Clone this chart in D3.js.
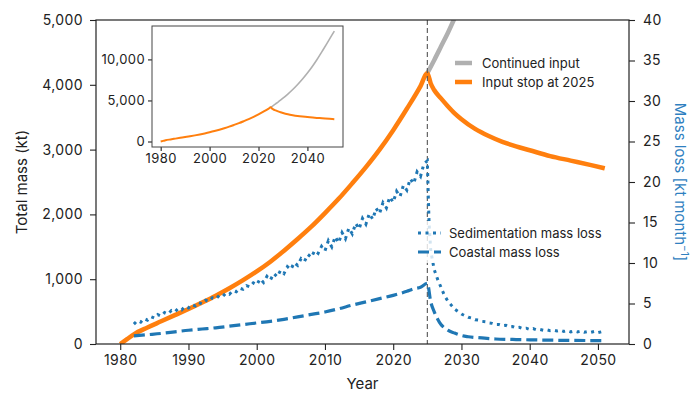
<!DOCTYPE html>
<html>
<head>
<meta charset="utf-8">
<script src="https://cdn.jsdelivr.net/npm/d3@7"></script>
<style>
body { margin: 0; background: #fff; }
text { font-family: Inter, "Liberation Sans", sans-serif; fill: #222; }
</style>
</head>
<body>
<script>

// total mass (kt), input stop at 2025
var stopYears = [1980, 1981, 1982, 1984, 1986, 1988, 1990, 1992, 1994, 1996, 1998, 2000, 2002, 2004, 2006, 2008,
  2010, 2012, 2014, 2016, 2018, 2020, 2022, 2024, 2025, 2025.5, 2026, 2027, 2028, 2029, 2030, 2032, 2034, 2036,
  2038, 2040, 2043, 2046, 2049, 2051];
var stopMass = [0, 75, 150, 255, 350, 445, 540, 640, 745, 860, 985, 1120, 1270, 1440, 1620, 1810,
  2020, 2240, 2480, 2730, 3000, 3300, 3630, 3980, 4180, 4020, 3920, 3790, 3670, 3560, 3470, 3320, 3210, 3120,
  3050, 2990, 2900, 2830, 2760, 2710];

// total mass (kt), continued input
var contYears = [2025, 2026, 2027, 2028, 2029, 2030, 2032, 2034, 2036, 2038, 2040, 2042, 2044, 2046, 2048, 2050, 2051];
var contMass = [4180, 4380, 4590, 4800, 5030, 5270, 5780, 6330, 6940, 7610, 8340, 9140, 10020, 10980, 11950, 12950, 13450];

// sedimentation mass loss (kt/month), half-yearly
var sedimentation = [
  [1982, 2.45], [1982.5, 2.88], [1983, 2.7], [1983.5, 3.13], [1984, 2.95], [1984.5, 3.38], [1985, 3.2], [1985.5, 3.63],
  [1986, 3.45], [1986.5, 3.88], [1987, 3.7], [1987.5, 4.13], [1988, 3.95], [1988.5, 4.38], [1989, 4.2], [1989.5, 4.63],
  [1990, 4.45], [1990.5, 4.88], [1991, 4.7], [1991.5, 5.13], [1992, 4.95], [1992.5, 5.4], [1993, 5.25], [1993.5, 5.7],
  [1994, 5.55], [1994.5, 6.0], [1995, 5.85], [1995.5, 6.3], [1996, 6.15], [1996.5, 6.6], [1997, 6.45], [1997.5, 6.9],
  [1998, 6.75], [1998.5, 7.2], [1999, 7.05], [1999.5, 7.55], [2000, 7.3], [2000.5, 8.05], [2001, 7.6], [2001.5, 8.35],
  [2002, 7.9], [2002.5, 8.7], [2003, 8.3], [2003.5, 9.1], [2004, 8.7], [2004.5, 9.55], [2005, 9.2], [2005.5, 10.05],
  [2006, 9.7], [2006.5, 10.55], [2007, 10.2], [2007.5, 11.05], [2008, 10.7], [2008.5, 11.55], [2009, 11.2], [2009.5, 12.05],
  [2010, 11.5], [2010.5, 12.75], [2011, 12.0], [2011.5, 13.25], [2012, 12.5], [2012.5, 13.75], [2013, 13.0], [2013.5, 14.3],
  [2014, 13.6], [2014.5, 14.9], [2015, 14.2], [2015.5, 15.5], [2016, 14.8], [2016.5, 16.1], [2017, 15.4], [2017.5, 16.75],
  [2018, 16.1], [2018.5, 17.45], [2019, 16.8], [2019.5, 18.15], [2020, 17.5], [2020.5, 18.85], [2021, 18.2], [2021.5, 19.6],
  [2022, 19.0], [2022.5, 20.4], [2023, 19.8], [2023.5, 21.25], [2024, 20.7], [2024.5, 22.25], [2025, 22.6],
  [2025.25, 15], [2025.5, 11.5], [2026, 9.2], [2026.5, 8.0], [2027, 7.0], [2027.5, 6.0], [2028, 5.3], [2028.5, 4.8],
  [2029, 4.3], [2029.5, 4.0], [2030, 3.7], [2030.5, 3.5], [2031, 3.3], [2031.5, 3.2], [2032, 3.0], [2032.5, 2.95],
  [2033, 2.8], [2033.5, 2.75], [2034, 2.6], [2034.5, 2.55], [2035, 2.4], [2035.5, 2.4], [2036, 2.25], [2036.5, 2.3],
  [2037, 2.1], [2037.5, 2.15], [2038, 2.0], [2038.5, 2.05], [2039, 1.9], [2039.5, 1.95], [2040, 1.8], [2040.5, 1.9],
  [2041, 1.75], [2041.5, 1.8], [2042, 1.7], [2042.5, 1.75], [2043, 1.65], [2043.5, 1.7], [2044, 1.6], [2044.5, 1.7],
  [2045, 1.55], [2045.5, 1.65], [2046, 1.5], [2046.5, 1.6], [2047, 1.5], [2047.5, 1.6], [2048, 1.45], [2048.5, 1.55],
  [2049, 1.45], [2049.5, 1.55], [2050, 1.4], [2050.5, 1.5], [2051, 1.45]
];

// coastal mass loss (kt/month)
var coastalYears = [1982, 1984, 1986, 1988, 1990, 1992, 1994, 1996, 1998, 2000, 2002, 2004, 2006, 2008, 2010, 2012,
  2014, 2016, 2018, 2020, 2022, 2023, 2024, 2025, 2025.5, 2026, 2026.5, 2027, 2027.5, 2028, 2029, 2030, 2031, 2033,
  2035, 2038, 2041, 2045, 2051];
var coastalLoss = [1.0, 1.15, 1.3, 1.5, 1.7, 1.85, 2.0, 2.2, 2.4, 2.6, 2.8, 3.05, 3.35, 3.65, 3.95, 4.35,
  4.8, 5.2, 5.6, 6.0, 6.5, 6.8, 7.0, 7.5, 5.2, 4.0, 3.1, 2.4, 2.0, 1.7, 1.35, 1.05, 0.9, 0.75,
  0.62, 0.55, 0.5, 0.45, 0.42];

var yearTicks = [1980, 1990, 2000, 2010, 2020, 2030, 2040, 2050];
var massTicks = [0, 1000, 2000, 3000, 4000, 5000];
var lossTicks = [0, 5, 10, 15, 20, 25, 30, 35, 40];
var insetYearTicks = [1980, 2000, 2020, 2040];
var insetMassTicks = [0, 5000, 10000];

var blue = "#1f77b4", orange = "#ff7f0e", grey = "#b0b0b0";

var w = 692;
var h = 393;
var pL = 96, pR = 629, pT = 20, pB = 344;  // plot box

var svg = d3.select("body")
  .append("svg")
  .attr("width", w)
  .attr("height", h);

var x = d3.scaleLinear().domain([1976.45, 2054.55]).range([pL, pR]);
var yMass = d3.scaleLinear().domain([0, 5000]).range([pB, pT]);
var yLoss = d3.scaleLinear().domain([0, 40]).range([pB, pT]);

svg.append("clipPath").attr("id", "clip")
  .append("rect")
  .attr("x", pL).attr("y", pT)
  .attr("width", pR - pL).attr("height", pB - pT);

var plot = svg.append("g").attr("clip-path", "url(#clip)");

var massLine = d3.line()
  .curve(d3.curveMonotoneX)
  .x(function(d) { return x(d[0]); })
  .y(function(d) { return yMass(d[1]); });
var sedLine = d3.line()
  .x(function(d) { return x(d[0]); })
  .y(function(d) { return yLoss(d[1]); });
var coastLine = d3.line()
  .curve(d3.curveMonotoneX)
  .x(function(d) { return x(d[0]); })
  .y(function(d) { return yLoss(d[1]); });

plot.append("path")
  .datum(d3.zip(contYears, contMass))
  .attr("d", massLine)
  .attr("fill", "none").attr("stroke", grey).attr("stroke-width", 4.5);

plot.append("path")
  .datum(d3.zip(stopYears, stopMass))
  .attr("d", massLine)
  .attr("fill", "none").attr("stroke", orange).attr("stroke-width", 4.5)
  .attr("stroke-linejoin", "round");

// vertical line at 2025
plot.append("line")
  .attr("x1", x(2025)).attr("x2", x(2025))
  .attr("y1", pT).attr("y2", pB)
  .attr("stroke", "#555").attr("stroke-width", 1.1)
  .attr("stroke-dasharray", "5,3");

plot.append("path")
  .datum(sedimentation)
  .attr("d", sedLine)
  .attr("fill", "none").attr("stroke", blue).attr("stroke-width", 3)
  .attr("stroke-dasharray", "3,4.5");

plot.append("path")
  .datum(d3.zip(coastalYears, coastalLoss))
  .attr("d", coastLine)
  .attr("fill", "none").attr("stroke", blue).attr("stroke-width", 3.2)
  .attr("stroke-dasharray", "11,5");

function styleAxis(g, size) {
  g.select(".domain").remove();
  g.selectAll(".tick line").attr("stroke", "#222").attr("stroke-width", 1.1);
  g.selectAll(".tick text").attr("font-size", size).attr("fill", "#222").attr("letter-spacing", 0.4);
}

svg.append("g")
  .attr("transform", "translate(" + pL + ",0)")
  .call(d3.axisLeft(yMass).tickValues(massTicks).tickFormat(d3.format(",")).tickSize(6).tickPadding(7))
  .call(styleAxis, 14);

svg.append("g")
  .attr("transform", "translate(" + pR + ",0)")
  .call(d3.axisRight(yLoss).tickValues(lossTicks).tickSize(6).tickPadding(8))
  .call(styleAxis, 14);

svg.append("g")
  .attr("transform", "translate(0," + pB + ")")
  .call(d3.axisBottom(x).tickValues(yearTicks).tickFormat(d3.format("d")).tickSize(6).tickPadding(5))
  .call(styleAxis, 14);

svg.append("rect")
  .attr("x", pL).attr("y", pT)
  .attr("width", pR - pL).attr("height", pB - pT)
  .attr("fill", "none").attr("stroke", "#222").attr("stroke-width", 1.2);

// axis titles
svg.append("text")
  .attr("transform", "translate(27," + ((pT + pB) / 2) + ") rotate(-90)")
  .attr("text-anchor", "middle")
  .attr("font-size", 15)
  .text("Total mass (kt)");

svg.append("text")
  .attr("x", (pL + pR) / 2).attr("y", 389)
  .attr("text-anchor", "middle")
  .attr("font-size", 15)
  .text("Year");

var rt = svg.append("text")
  .attr("transform", "translate(675," + ((pT + pB) / 2) + ") rotate(90)")
  .attr("text-anchor", "middle")
  .attr("font-size", 15)
  .style("fill", "#2f80c0");
rt.append("tspan").text("Mass loss [kt month");
rt.append("tspan").attr("font-size", 10).attr("dy", -6).text("\u22121");
rt.append("tspan").attr("dy", 6).text("]");

// legends
var leg1 = svg.append("g");
leg1.append("rect").attr("x", 448).attr("y", 51).attr("width", 160).attr("height", 42)
  .attr("fill", "#fff").attr("opacity", 0.8);
[["Continued input", grey, 63], ["Input stop at 2025", orange, 82]].forEach(function(d) {
  leg1.append("line").attr("x1", 455).attr("x2", 472).attr("y1", d[2]).attr("y2", d[2])
    .attr("stroke", d[1]).attr("stroke-width", 4.5);
  leg1.append("text").attr("x", 482).attr("y", d[2]).attr("dy", "0.35em")
    .attr("font-size", 13).text(d[0]);
});

var leg2 = svg.append("g");
leg2.append("rect").attr("x", 411).attr("y", 221).attr("width", 200).attr("height", 42)
  .attr("fill", "#fff").attr("opacity", 0.8);
[["Sedimentation mass loss", "3,4.5", 233], ["Coastal mass loss", "11,5", 252]].forEach(function(d) {
  leg2.append("line").attr("x1", 418).attr("x2", 441).attr("y1", d[2]).attr("y2", d[2])
    .attr("stroke", blue).attr("stroke-width", 3).attr("stroke-dasharray", d[1]);
  leg2.append("text").attr("x", 449).attr("y", d[2]).attr("dy", "0.35em")
    .attr("font-size", 13).text(d[0]);
});

// inset
var il = 152, ir = 343, itop = 26, ibot = 147;
var ix = d3.scaleLinear().domain([1976.45, 2054.55]).range([il, ir]);
var iy = d3.scaleLinear().domain([-670, 14070]).range([ibot, itop]);

var inset = svg.append("g");
inset.append("rect").attr("x", il).attr("y", itop).attr("width", ir - il).attr("height", ibot - itop)
  .attr("fill", "#fff");

var insetLine = d3.line()
  .curve(d3.curveMonotoneX)
  .x(function(d) { return ix(d[0]); })
  .y(function(d) { return iy(d[1]); });

inset.append("path")
  .datum(d3.zip(contYears, contMass))
  .attr("d", insetLine)
  .attr("fill", "none").attr("stroke", grey).attr("stroke-width", 1.6);
inset.append("path")
  .datum(d3.zip(stopYears, stopMass))
  .attr("d", insetLine)
  .attr("fill", "none").attr("stroke", orange).attr("stroke-width", 2);

inset.append("g")
  .attr("transform", "translate(" + il + ",0)")
  .call(d3.axisLeft(iy).tickValues(insetMassTicks).tickFormat(d3.format(",")).tickSize(4).tickPadding(3))
  .call(styleAxis, 13);
inset.append("g")
  .attr("transform", "translate(0," + ibot + ")")
  .call(d3.axisBottom(ix).tickValues(insetYearTicks).tickFormat(d3.format("d")).tickSize(4).tickPadding(3))
  .call(styleAxis, 13);
inset.append("rect").attr("x", il).attr("y", itop).attr("width", ir - il).attr("height", ibot - itop)
  .attr("fill", "none").attr("stroke", "#444").attr("stroke-width", 1);

</script>
</body>
</html>
